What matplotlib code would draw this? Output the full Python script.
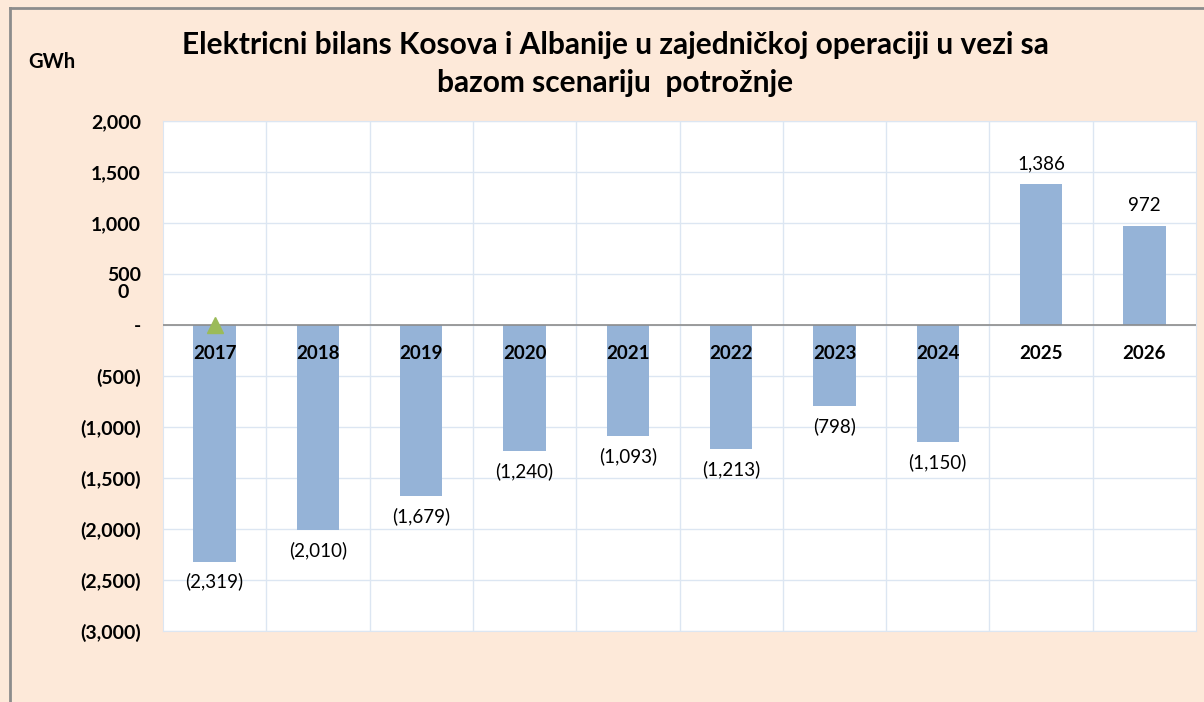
import matplotlib.pyplot as plt
from matplotlib.lines import Line2D

# data
years = ['2017', '2018', '2019', '2020', '2021', '2022', '2023', '2024', '2025', '2026']
balance = [-2319, -2010, -1679, -1240, -1093, -1213, -798, -1150, 1386, 972]
marker_year = '2017'
marker_value = 0

title = ('Elektricni bilans Kosova i Albanije u zajedničkoj operaciji u vezi sa\n'
         'bazom scenariju  potrožnje')
yticks = [2000, 1500, 1000, 500, 0, -500, -1000, -1500, -2000, -2500, -3000]


def fmt(v):
    if v == 0:
        return '-'
    if v < 0:
        return '({:,})'.format(-v)
    return '{:,}'.format(v)


plt.rcParams['font.family'] = ['Lato', 'DejaVu Sans']

fig = plt.figure(figsize=(12.04, 7.02), dpi=100)
fig.patch.set_facecolor('#FDE9D9')
ax = fig.add_axes([163 / 1204, 1 - 631 / 702, 1033 / 1204, 510 / 702])
ax.set_facecolor('white')

x = list(range(len(years)))
ax.bar(x, balance, width=0.41, color='#95B3D7', zorder=2)
ax.plot([years.index(marker_year)], [marker_value], marker='^', color='#9BBB59',
        markersize=11, ls='none', zorder=4)

ax.set_xlim(-0.5, len(years) - 0.5)
ax.set_ylim(-3000, 2000)
ax.set_yticks(yticks)
ax.set_yticklabels([fmt(v) for v in yticks], fontsize=14, fontweight='bold')
ax.tick_params(axis='y', length=0, pad=16)
ax.set_xticks([])

# grid
for v in yticks:
    ax.axhline(v, color='#DCE6F2', lw=1, zorder=1)
for i in range(1, len(years)):
    ax.axvline(i - 0.5, color='#DCE6F2', lw=1, zorder=1)
ax.axhline(0, color='#8C8C8C', lw=1.2, zorder=3)
for s in ax.spines.values():
    s.set_color('#DCE6F2')

# category labels sit just below zero line
for i, y in enumerate(years):
    ax.text(i, -275, y, ha='center', va='center', fontsize=13.5,
            fontweight='bold', zorder=5)

# data labels
for i, v in enumerate(balance):
    off = 20 if v > 0 else -20
    ax.annotate(fmt(v), (i, v), xytext=(0, off), textcoords='offset pixels',
                ha='center', va='center', fontsize=13.5, zorder=5)

fig.text(615 / 1204, 1 - 64 / 702, title, ha='center', va='center',
         fontsize=21.5, fontweight='bold', linespacing=1.4)
fig.text(52 / 1204, 1 - 62 / 702, 'GWh', ha='center', va='center',
         fontsize=14.5, fontweight='bold')
fig.text(123 / 1204, 1 - 293 / 702, '0', ha='center', va='center',
         fontsize=14, fontweight='bold')

# outer border (left and top)
fig.add_artist(Line2D([10 / 1204, 10 / 1204], [0, 1 - 8 / 702],
                      transform=fig.transFigure, color='#8C8C8C', lw=2))
fig.add_artist(Line2D([10 / 1204, 1], [1 - 8 / 702, 1 - 8 / 702],
                      transform=fig.transFigure, color='#8C8C8C', lw=2))

fig.savefig('out.png', dpi=100, facecolor=fig.get_facecolor())
